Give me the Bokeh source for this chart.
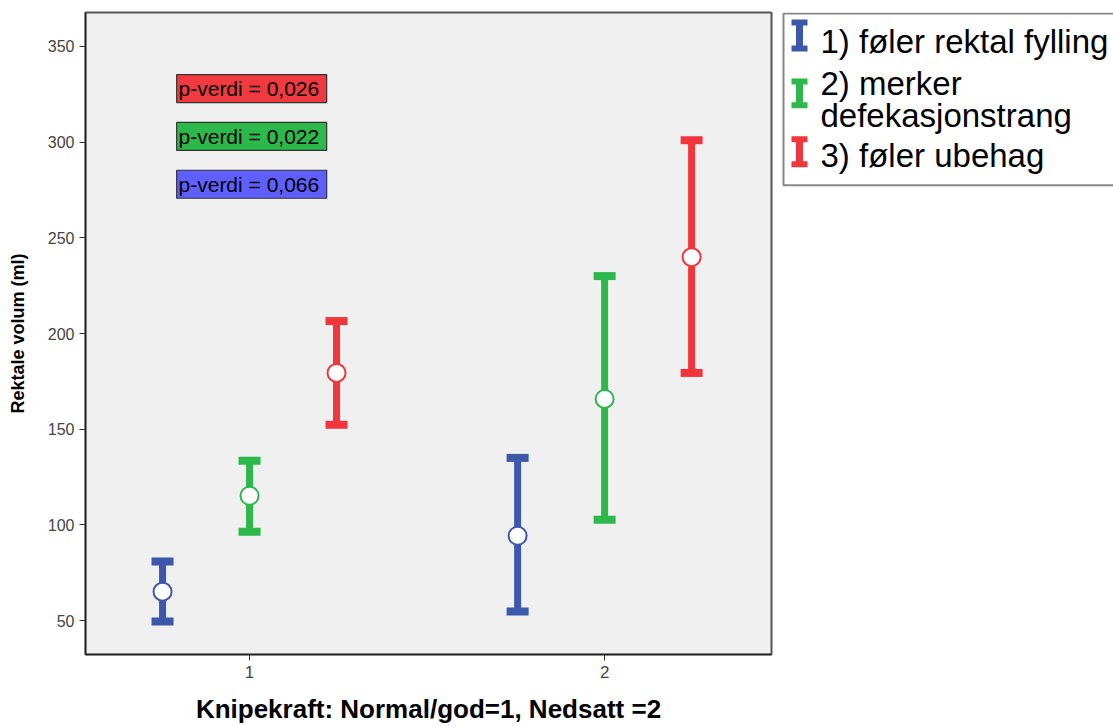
from bokeh.plotting import figure
from bokeh.layouts import row
from bokeh.models import Range1d, FixedTicker, ColumnDataSource
from bokeh.transform import dodge
from bokeh.core.properties import value
from bokeh.embed import file_html
from bokeh.resources import INLINE

# ---------------- data ----------------
groups = [1, 2]
series_labels = ["1) føler rektal fylling", "2) merker\ndefekasjonstrang", "3) føler ubehag"]
series_colors = ["#3d57ab", "#2db84b", "#f0363c"]
series_offsets = [-0.245, 0.0, 0.245]

blue_mean = [65.1, 94.3]
blue_upper = [80.8, 135.0]
blue_lower = [49.5, 54.7]

green_mean = [115.2, 165.8]
green_upper = [133.5, 230.0]
green_lower = [96.4, 102.7]

red_mean = [179.4, 239.9]
red_upper = [206.5, 301.0]
red_lower = [152.3, 179.4]

pval_texts = ["p-verdi = 0,026", "p-verdi = 0,022", "p-verdi = 0,066"]
pval_colors = ["#f03a40", "#2db84b", "#5f5fff"]
pval_y = [328.0, 303.0, 278.0]
pval_x = 1.006

y_ticks = [50, 100, 150, 200, 250, 300, 350]
x_ticks = [1, 2]

FONT = "Liberation Sans"

# ---------------- main figure ----------------
p = figure(width=780, height=726, output_backend="svg", toolbar_location=None,
           x_range=Range1d(0.538, 2.470), y_range=Range1d(32.26, 367.74),
           min_border_left=85, min_border_right=9, min_border_top=12, min_border_bottom=71)
p.background_fill_color = "#f0f0f0"
p.border_fill_color = "white"
p.outline_line_color = "#555555"
p.outline_line_width = 2
p.grid.visible = False

p.yaxis.ticker = FixedTicker(ticks=y_ticks)
p.xaxis.ticker = FixedTicker(ticks=x_ticks)
for ax in (p.xaxis, p.yaxis):
    ax.minor_tick_line_color = None
    ax.major_tick_in = 0
    ax.major_tick_out = 6
    ax.major_tick_line_color = "#333333"
    ax.axis_line_color = "#222222"
    ax.axis_line_width = 1.5
    ax.major_label_text_font = FONT
    ax.major_label_text_color = "#444444"
    ax.axis_label_text_font = FONT
    ax.axis_label_text_font_style = "bold"
    ax.axis_label_text_color = "black"
p.yaxis.major_label_text_font_size = "16px"
p.xaxis.major_label_text_font_size = "17px"
p.yaxis.axis_label = "Rektale volum (ml)"
p.yaxis.axis_label_text_font_size = "18px"
p.yaxis.axis_label_standoff = 17
p.xaxis.axis_label = "Knipekraft: Normal/god=1, Nedsatt =2"
p.xaxis.axis_label_text_font_size = "26px"
p.xaxis.axis_label_standoff = 13

all_series = [
    (blue_mean, blue_upper, blue_lower),
    (green_mean, green_upper, green_lower),
    (red_mean, red_upper, red_lower),
]

for (m, up, lo), col, off in zip(all_series, series_colors, series_offsets):
    src = ColumnDataSource(dict(x=groups, mean=m, upper=up, lower=lo))
    xd = dodge("x", off, range=p.x_range)
    p.segment(x0=xd, x1=xd, y0="lower", y1="upper", source=src,
              line_color=col, line_width=7)
    p.rect(x=xd, y="upper", width=22, height=8, width_units="screen",
           height_units="screen", source=src, fill_color=col, line_color=None)
    p.rect(x=xd, y="lower", width=22, height=8, width_units="screen",
           height_units="screen", source=src, fill_color=col, line_color=None)
    p.scatter(x=xd, y="mean", size=18, source=src, fill_color="white",
              line_color=col, line_width=2)

# p-value boxes
psrc = ColumnDataSource(dict(y=pval_y, text=pval_texts, color=pval_colors,
                             x=[pval_x] * len(pval_y)))
p.rect(x="x", y="y", width=150, height=28, width_units="screen", height_units="screen",
       source=psrc, fill_color="color", line_color="#333333", line_width=1.2)
p.text(x=dodge("x", -0.206, range=p.x_range), y="y", text="text", source=psrc,
       text_font=value(FONT), text_font_size="21px", text_color="black",
       text_align="left", text_baseline="middle")

# ---------------- legend figure (frame aligned with main frame: y 12..655) ----------------
LW, LH = 333, 726
lg = figure(width=LW, height=LH, output_backend="svg", toolbar_location=None,
            x_range=Range1d(780, 780 + LW), y_range=Range1d(655, 12),
            x_axis_type=None, y_axis_type=None,
            min_border=0, min_border_left=0, min_border_right=0,
            min_border_top=0, min_border_bottom=0)
lg.outline_line_color = None
lg.grid.visible = False
lg.background_fill_color = "white"
lg.border_fill_color = "white"

lg.quad(left=[783], right=[1125], top=[13], bottom=[185], fill_color="white",
        line_color="#888888", line_width=2)

cap_top = [22, 81, 139]
cap_bot = [48, 105, 164]
text_y = [41, 99, 155]
lsrc = ColumnDataSource(dict(x=[799] * 3, top=cap_top, bot=cap_bot, color=series_colors,
                             ty=text_y, label=series_labels, tx=[820] * 3))
lg.segment(x0="x", x1="x", y0="top", y1="bot", source=lsrc, line_color="color", line_width=7)
lg.rect(x="x", y="top", width=16, height=6, source=lsrc, fill_color="color", line_color=None)
lg.rect(x="x", y="bot", width=16, height=6, source=lsrc, fill_color="color", line_color=None)
lg.text(x="tx", y="ty", text="label", source=lsrc, text_font=value(FONT),
        text_font_size="33px", text_color="black", text_align="left",
        text_baseline="middle", text_line_height=0.85)

layout = row(p, lg)
open("out.html", "w").write(file_html(layout, INLINE))
